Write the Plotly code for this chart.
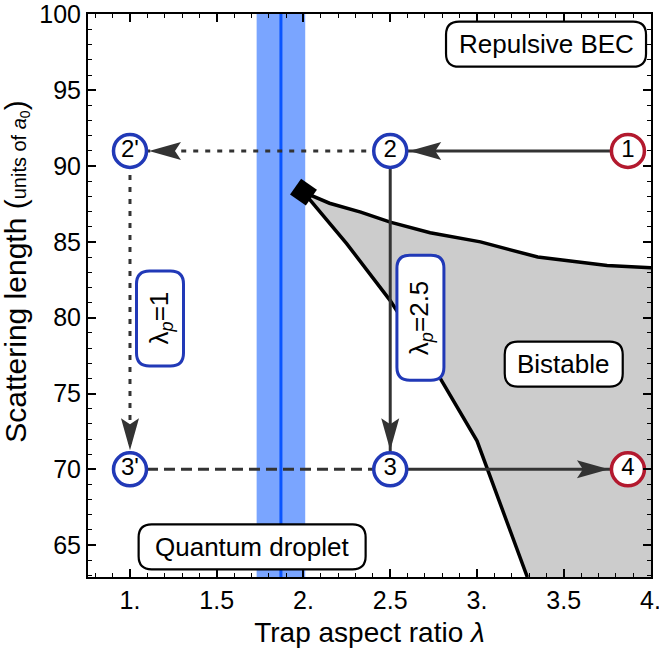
import plotly.graph_objects as go

# ---------------- data ----------------
x_range = [0.758, 4.003]
y_range = [62.9, 100.03]

x_tickvals = [1.0, 1.5, 2.0, 2.5, 3.0, 3.5, 4.0]
x_ticktext = ["1.", "1.5", "2.", "2.5", "3.", "3.5", "4."]
y_tickvals = [65, 70, 75, 80, 85, 90, 95, 100]
y_ticktext = ["65", "70", "75", "80", "85", "90", "95", "100"]

# bistable region boundaries
upper_x = [2.0, 2.15, 2.33, 2.5, 2.73, 3.02, 3.35, 3.75, 4.003]
upper_y = [88.28, 87.55, 86.96, 86.3, 85.6, 85.0, 84.0, 83.44, 83.3]
lower_x = [2.0, 2.25, 2.5, 2.79, 3.0, 3.29]
lower_y = [88.28, 84.87, 81.13, 75.96, 71.88, 62.9]

# critical point (diamond)
crit_x = [2.0]
crit_y = [88.28]

# droplet-threshold band
band_lo = 1.73
band_hi = 2.01
band_center = 1.87

# sequence points
pt_names = ["1", "2", "2'", "3'", "3", "4"]
pt_x = [3.87, 2.5, 1.0, 1.0, 2.5, 3.87]
pt_y = [91, 91, 91, 70, 70, 70]
pt_kind = ["red", "blue", "blue", "blue", "blue", "red"]

# path segments: (from, to, style, arrow)
segments = [
    ("1", "2", "solid", True),
    ("2", "2'", "dot", True),
    ("2'", "3'", "dot", True),
    ("3'", "3", "dash", False),
    ("2", "3", "solid", True),
    ("3", "4", "solid", True),
]

# region labels: text, x, y, box w, box h, border colour kind, angle
labels = [
    ("Repulsive BEC", 3.398, 98.04, 200, 45, "black", 0),
    ("Bistable", 3.5, 76.94, 118, 45, "black", 0),
    ("Quantum droplet", 1.704, 64.89, 227, 45, "black", 0),
    ("λ<sub><i>p</i></sub>=1", 1.173, 79.95, 47, 95, "blue", -90),
    ("λ<sub><i>p</i></sub>=2.5", 2.674, 80.0, 47, 125, "blue", -90),
]

x_title = "Trap aspect ratio <i>λ</i>"
y_title = ("Scattering length (<span style='font-size:20px'>units of "
           "<i>a</i><sub>0</sub></span>)")

# ---------------- styling ----------------
FONT = "Arial, Liberation Sans, sans-serif"
BLUE = "#2139b7"
RED = "#b3192e"
LINE = "#333333"
kind_color = {"blue": BLUE, "red": RED, "black": "black"}
dash_map = {"solid": "solid", "dot": "5px,7px", "dash": "11px,6px"}

W, H = 659, 651
ML, MR, MT, MB = 88, 8, 14, 74

fig = go.Figure()

# gray bistable region
poly_x = upper_x + [x_range[1]] + lower_x[::-1]
poly_y = upper_y + [y_range[0]] + lower_y[::-1]
fig.add_trace(go.Scatter(x=poly_x, y=poly_y, fill="toself", fillcolor="#cccccc",
                         line=dict(width=0), mode="lines", hoverinfo="skip"))
fig.add_trace(go.Scatter(x=upper_x, y=upper_y, mode="lines",
                         line=dict(color="black", width=3.5)))
fig.add_trace(go.Scatter(x=lower_x, y=lower_y, mode="lines",
                         line=dict(color="black", width=3.5)))

# path lines
pos = {n: (x, y) for n, x, y in zip(pt_names, pt_x, pt_y)}
for a, b, style, arrow in segments:
    (x0, y0), (x1, y1) = pos[a], pos[b]
    fig.add_trace(go.Scatter(x=[x0, x1], y=[y0, y1], mode="lines",
                             line=dict(color=LINE, width=3, dash=dash_map[style])))

# critical point
fig.add_trace(go.Scatter(x=crit_x, y=crit_y, mode="markers",
                         marker=dict(symbol="diamond", size=21, color="black", angle=-10)))

# points
fig.add_trace(go.Scatter(
    x=pt_x, y=pt_y, mode="markers+text", text=pt_names,
    textposition="middle center",
    textfont=dict(family=FONT, size=24, color="black"),
    marker=dict(size=33, color="white",
                line=dict(width=3.5, color=[kind_color[k] for k in pt_kind]))))

shapes = []
shapes.append(dict(type="rect", xref="x", yref="paper", x0=band_lo, x1=band_hi,
                   y0=0, y1=1, fillcolor="#7aa5ff", line=dict(width=0), layer="below"))
shapes.append(dict(type="line", xref="x", yref="paper", x0=band_center, x1=band_center,
                   y0=0, y1=1, line=dict(color="#0a55ff", width=3), layer="below"))

px_per_x = (W - ML - MR) / (x_range[1] - x_range[0])
px_per_y = (H - MT - MB) / (y_range[1] - y_range[0])
R_CIRC, L_HEAD, W_HEAD, NOTCH = 19, 32, 9, 6
for a, b, style, arrow in segments:
    if not arrow:
        continue
    (x0, y0), (x1, y1) = pos[a], pos[b]
    dx = (x0 - x1) * px_per_x
    dy = (y0 - y1) * px_per_y
    n = (dx * dx + dy * dy) ** 0.5
    ux, uy = dx / n, dy / n
    vx, vy = -uy, ux
    tip = (R_CIRC * ux, R_CIRC * uy)
    back = R_CIRC + L_HEAD
    c1 = (back * ux + W_HEAD * vx, back * uy + W_HEAD * vy)
    c2 = (back * ux - W_HEAD * vx, back * uy - W_HEAD * vy)
    nt = ((back - NOTCH) * ux, (back - NOTCH) * uy)
    path = "M{:.2f},{:.2f} L{:.2f},{:.2f} L{:.2f},{:.2f} L{:.2f},{:.2f} Z".format(
        tip[0], tip[1], c1[0], c1[1], nt[0], nt[1], c2[0], c2[1])
    shapes.append(dict(type="path", xref="x", yref="y", xsizemode="pixel",
                       ysizemode="pixel", xanchor=x1, yanchor=y1, path=path,
                       fillcolor=LINE, line=dict(width=0), layer="above"))


def rounded(w, h, r):
    a, b = w / 2, h / 2
    return ("M{0},{1} L{2},{1} Q{3},{1} {3},{4} L{3},{5} Q{3},{6} {2},{6} "
            "L{0},{6} Q{7},{6} {7},{5} L{7},{4} Q{7},{1} {0},{1} Z").format(
        -a + r, -b, a - r, a, -b + r, b - r, b, -a)


annotations = []
for text, lx, ly, bw, bh, kind, ang in labels:
    shapes.append(dict(type="path", xref="x", yref="y", xsizemode="pixel",
                       ysizemode="pixel", xanchor=lx, yanchor=ly,
                       path=rounded(bw, bh, 13), fillcolor="white",
                       line=dict(color=kind_color[kind], width=3 if kind == "blue" else 2.2),
                       layer="above"))
    annotations.append(dict(x=lx, y=ly, xref="x", yref="y", text=text, showarrow=False,
                            textangle=ang, font=dict(family=FONT, size=26, color="black")))

# y-axis title as a rotated annotation (sits slightly above the plot centre)
annotations.append(dict(x=-0.128, y=0.542, xref="paper", yref="paper", text=y_title,
                        showarrow=False, textangle=-90, xanchor="center", yanchor="middle",
                        font=dict(family=FONT, size=30, color="black")))

axis_common = dict(showgrid=False, zeroline=False, showline=True, linecolor="black",
                   linewidth=2, mirror="allticks", ticks="inside", ticklen=8,
                   tickwidth=1.5, tickcolor="black", automargin=False,
                   ticklabeloverflow="allow",
                   tickfont=dict(family=FONT, size=25, color="black"))

fig.update_layout(
    width=W, height=H, margin=dict(l=ML, r=MR, t=MT, b=MB),
    plot_bgcolor="white", paper_bgcolor="white", showlegend=False,
    shapes=shapes, annotations=annotations,
    xaxis=dict(range=x_range, tickvals=x_tickvals, ticktext=x_ticktext,
               minor=dict(dtick=0.1, tick0=0, ticks="inside", ticklen=4,
                          tickwidth=1.2, tickcolor="black"),
               title=dict(text=x_title,
                          font=dict(family=FONT, size=28, color="black"), standoff=9),
               **axis_common),
    yaxis=dict(range=y_range, tickvals=y_tickvals, ticktext=y_ticktext,
               minor=dict(dtick=1, tick0=0, ticks="inside", ticklen=4,
                          tickwidth=1.2, tickcolor="black"),
               **axis_common),
)

fig.write_html("out.html", config={"displayModeBar": False},
               post_script="document.body.style.margin='0px';")
